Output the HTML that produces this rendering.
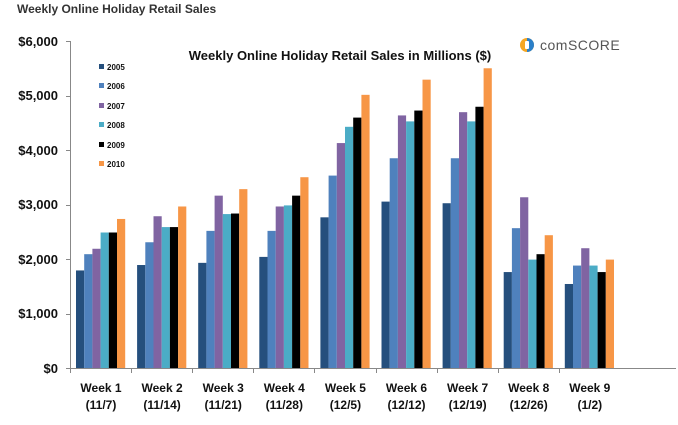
<!DOCTYPE html>
<html><head><style>body{margin:0;background:#fff}svg{display:block}</style></head><body>
<svg width="678" height="425" xmlns="http://www.w3.org/2000/svg" font-family="Liberation Sans, sans-serif">
<text x="17" y="13" font-size="12" font-weight="bold" fill="#333">Weekly Online Holiday Retail Sales</text>
<g font-size="13" font-weight="bold" fill="#111" text-anchor="end">
<text x="58" y="46">$6,000</text><text x="58" y="100">$5,000</text><text x="58" y="155">$4,000</text>
<text x="58" y="209">$3,000</text><text x="58" y="264">$2,000</text><text x="58" y="318">$1,000</text><text x="58" y="373">$0</text>
</g>
<g stroke="#888" stroke-width="1">
<line x1="70.5" y1="41" x2="70.5" y2="368"/>
<line x1="66" y1="41.5" x2="70" y2="41.5"/><line x1="66" y1="96.5" x2="70" y2="96.5"/><line x1="66" y1="150.5" x2="70" y2="150.5"/>
<line x1="66" y1="205.5" x2="70" y2="205.5"/><line x1="66" y1="259.5" x2="70" y2="259.5"/><line x1="66" y1="314.5" x2="70" y2="314.5"/>
<line x1="66" y1="368.5" x2="676" y2="368.5"/>
</g>
<g id="ticks" stroke="#888"></g>
<text x="340" y="60" font-size="13" font-weight="bold" text-anchor="middle" fill="#111">Weekly Online Holiday Retail Sales in Millions ($)</text>
<g font-size="8" font-weight="bold" fill="#111">
<rect x="99" y="64" width="5" height="5" fill="#254f7d"/><text x="107" y="70">2005</text>
<rect x="99" y="83" width="5" height="5" fill="#4f81bd"/><text x="107" y="89">2006</text>
<rect x="99" y="103" width="5" height="5" fill="#8064a2"/><text x="107" y="109">2007</text>
<rect x="99" y="122" width="5" height="5" fill="#4bacc6"/><text x="107" y="128">2008</text>
<rect x="99" y="142" width="5" height="5" fill="#000"/><text x="107" y="148">2009</text>
<rect x="99" y="161" width="5" height="5" fill="#f79646"/><text x="107" y="167">2010</text>
</g>
<circle cx="527" cy="45" r="7" fill="#f5a623"/>
<path d="M527 38 A7 7 0 0 1 527 52 Z" fill="#2a7fc9"/><rect x="525" y="41" width="4" height="8" fill="#fff" rx="1"/>
<text x="540" y="50" font-size="14" fill="#555" letter-spacing="0.5">comSCORE</text>
<g id="bars"></g>
<g id="labels" font-size="12" font-weight="bold" fill="#111" text-anchor="middle"></g>
<script>
var d=[[1800,2100,2200,2500,2500,2750],[1900,2320,2800,2600,2600,2980],[1940,2530,3180,2840,2850,3300],[2050,2530,2980,3000,3180,3520],[2780,3550,4150,4450,4620,5040],[3070,3870,4660,4550,4750,5320],[3040,3870,4720,4550,4820,5530],[1770,2580,3150,2000,2100,2450],[1550,1890,2210,1890,1770,2000]];
var c=["#254f7d","#4f81bd","#8064a2","#4bacc6","#000","#f79646"];
var lab=[["Week 1","(11/7)"],["Week 2","(11/14)"],["Week 3","(11/21)"],["Week 4","(11/28)"],["Week 5","(12/5)"],["Week 6","(12/12)"],["Week 7","(12/19)"],["Week 8","(12/26)"],["Week 9","(1/2)"]];
var ns="http://www.w3.org/2000/svg",b=document.getElementById("bars"),L=document.getElementById("labels"),T=document.getElementById("ticks");
for(var i=0;i<9;i++){var x0=76+i*61.1;
for(var j=0;j<6;j++){var h=d[i][j]*0.0542,r=document.createElementNS(ns,"rect");
r.setAttribute("x",x0+j*8.2);r.setAttribute("y",368-h);r.setAttribute("width",8.2);r.setAttribute("height",h);r.setAttribute("fill",c[j]);b.appendChild(r);}
var t=document.createElementNS(ns,"line");var tx=Math.round(70+i*61.1)+0.5;t.setAttribute("x1",tx);t.setAttribute("x2",tx);t.setAttribute("y1",368);t.setAttribute("y2",373);T.appendChild(t);
for(var k=0;k<2;k++){var s=document.createElementNS(ns,"text");s.setAttribute("x",x0+25);s.setAttribute("y",392+k*17);s.textContent=lab[i][k];L.appendChild(s);}}
</script>
</svg>
</body></html>
